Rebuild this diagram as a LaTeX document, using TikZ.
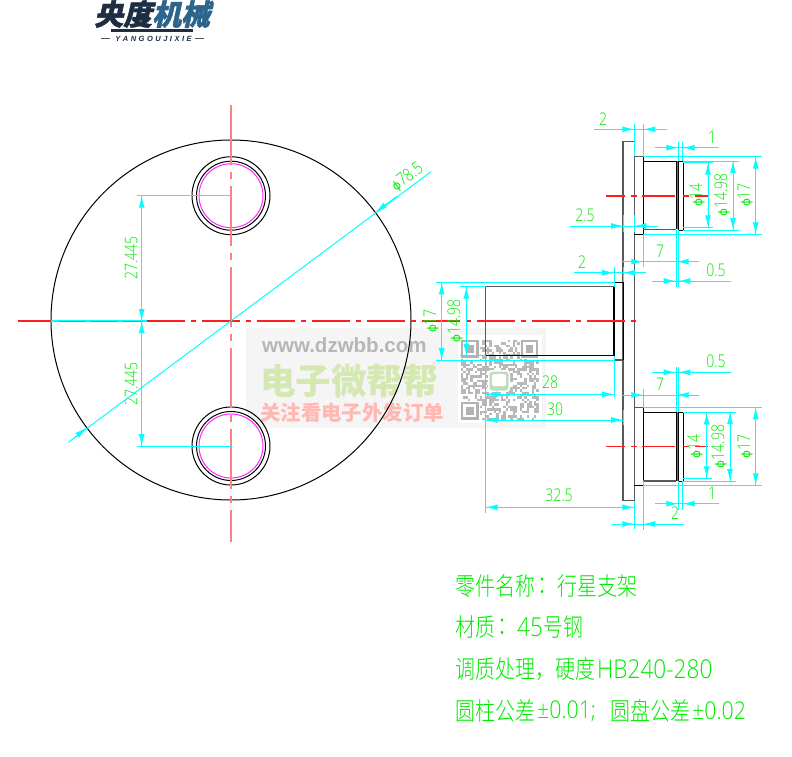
\documentclass[tikz,border=0pt]{standalone}
\usepackage{fontspec}
\usetikzlibrary{arrows.meta}
\newfontfamily\dimf[FakeStretch=0.8]{Open Sans Light}
\newfontfamily\latf[FakeStretch=0.87]{Open Sans Light}
\newfontfamily\phif{DejaVu Sans}
\newfontfamily\cjkl[FakeStretch=0.8]{Noto Sans CJK SC Light}
\newfontfamily\cjkb{Noto Sans CJK SC}
\newfontfamily\logof[FakeSlant=0.22,FakeBold=1.5]{Noto Sans CJK SC Black}
\newfontfamily\arialb{Liberation Sans}
\newcommand{\dphi}{{\phif\fontsize{12}{12}\selectfont ϕ}}
\newcommand{\cn}[1]{{\cjkl\fontsize{25}{25}\selectfont #1}}
\newcommand{\lt}[1]{{\latf\fontsize{26}{26}\selectfont #1}}
\newcommand{\lts}[1]{{\latf\fontsize{24.5}{24.5}\selectfont #1}}
\definecolor{dimc}{RGB}{0,255,255}
\definecolor{txtc}{RGB}{0,235,0}
\definecolor{redl}{RGB}{255,30,30}
\definecolor{redp}{RGB}{255,128,128}
\definecolor{magc}{RGB}{255,40,255}
\definecolor{navy}{RGB}{30,46,66}
\definecolor{blu}{RGB}{44,100,140}
\tikzset{
  dimln/.style={draw=dimc,line width=1pt},
  tipst/.style={color=dimc,line width=1pt,-{Latex[length=12pt,width=6pt]}},
  outl/.style={draw=black,line width=1pt},
  grayl/.style={draw=black!65,line width=1.3pt},
  redc/.style={color=redl,line width=1.1pt,dash pattern=on 38pt off 6pt on 5pt off 6pt},
  redv/.style={color=redp,line width=1.6pt,dash pattern=on 60pt off 7pt on 7pt off 7pt},
  dimtxt/.style={text=txtc,inner sep=0pt,font=\dimf\fontsize{17.5}{17.5}\selectfont},
  notetxt/.style={text=txtc,inner sep=0pt,anchor=west},
}
\newcommand{\htip}[3]{\draw[tipst] ({#1-(#3)*12},#2) -- (#1,#2);}
\newcommand{\vtip}[3]{\draw[tipst] (#1,{#2-(#3)*12}) -- (#1,#2);}
\newcommand{\pinaxis}[1]{\foreach \sa/\sb in {605.7/625,630.7/636.7,642/675,683/689,695/707.7}{\fill[redl] (\sa,#1-0.6) rectangle (\sb,#1+0.6);}}
\begin{document}
\begin{tikzpicture}[x=1pt,y=-1pt]
\useasboundingbox (0,0) rectangle (792,757);
% logo
\node[inner sep=0pt,anchor=west] (logo) at (94,14) {\logof\fontsize{29}{29}\selectfont\textcolor{navy}{央度}\textcolor{blu}{机械}};
\fill[navy] (111,29.5) rectangle (193,32);
\node[inner sep=0pt] (logosub) at (153.5,38.5) {\arialb\bfseries\itshape\fontsize{7.5}{7.5}\selectfont\textcolor{navy}{Y\,\,A\,\,N\,\,G\,\,O\,\,U\,\,J\,\,I\,\,X\,\,I\,\,E}};
\draw[navy!80,line width=.8pt] (101,38.5) -- (110,38.5) (195,38.5) -- (204,38.5);
% watermark
\fill[black!4] (246,328) rectangle (546,428);
\fill[white] (458,335) rectangle (542,423);
\node[inner sep=0pt,anchor=west] (wm1) at (262,345) {\arialb\bfseries\fontsize{20.5}{20.5}\selectfont\textcolor[RGB]{182,182,182}{www.dzwbb.com}};
\node[inner sep=0pt,anchor=west] (wm2) at (260,381) {\cjkb\bfseries\fontsize{35.5}{35.5}\selectfont\textcolor[RGB]{214,232,178}{电子微帮帮}};
\node[inner sep=0pt,anchor=west] (wm3) at (260,413) {\cjkb\bfseries\fontsize{20.4}{20.4}\selectfont\textcolor[RGB]{255,184,178}{关注看电子外发订单}};
% QR
\pgfmathsetseed{4711}
\foreach \i in {0,...,32}{\foreach \j in {0,...,33}{
  \pgfmathrandominteger{\rr}{0}{99}
  \ifnum\rr<48
    \fill[black!28] ({461+\i*2.35},{340+\j*2.35}) rectangle ++(2.35,2.35);
  \fi}}
\foreach \fx/\fy in {461/340,520.5/340,461/402}{
  \fill[white] (\fx-1,\fy-1) rectangle ++(20,20);
  \fill[black!30] (\fx,\fy) rectangle ++(17.5,17.5);
  \fill[white] (\fx+2.4,\fy+2.4) rectangle ++(12.7,12.7);
  \fill[black!30] (\fx+5,\fy+5) rectangle ++(7.5,7.5);
}
\fill[white,rounded corners=3pt] (488,370) rectangle (510,392);
\fill[green!45!black!25!white,rounded corners=3pt] (489.5,371.5) rectangle (508.5,390.5);
\fill[white,rounded corners=2pt] (492,374) rectangle (506,386);
% left view
\draw[outl] (231,320) circle[radius=180];
\foreach \cy in {195.7,446}{
  \draw[outl] (231,\cy) circle[radius=39];
  \draw[outl] (231,\cy) circle[radius=34.5];
  \draw[draw=magc,line width=1pt] (231,\cy) circle[radius=32];
}
% side view: disk
\draw[grayl] (634.3,141.3) -- (623,141.3) -- (623,500.7) -- (634.3,500.7);
\draw[grayl] (634.3,141.3) -- (634.3,500.7);
% upper pin
\draw[grayl] (634.3,156.7) -- (643.3,156.7);
\draw[outl] (634.3,234.3) -- (643.3,234.3);
\draw[outl,line width=1.2pt] (643.3,156.7) -- (643.3,234.3);
\draw[outl] (643.3,161) -- (676,161);
\draw[grayl] (643.3,229.3) -- (676,229.3);
\fill[black!55] (676,161) rectangle (678.6,229.3);
\draw[outl] (676,161) -- (676,229.3);
\draw[outl,line width=.8pt] (678.6,161) -- (683,161) -- (683,230) -- (678.6,230) -- cycle;
% lower pin
\draw[grayl] (634.3,407.3) -- (643.3,407.3);
\draw[outl] (634.3,485.3) -- (643.3,485.3);
\draw[outl,line width=1.2pt] (643.3,407.3) -- (643.3,481);
\draw[outl] (643.3,412) -- (676,412);
\draw[grayl] (643.3,481) -- (676,481);
\fill[black!55] (676,412) rectangle (678.6,481);
\draw[outl] (676,412) -- (676,481);
\draw[outl,line width=.8pt] (678.6,412) -- (683,412) -- (683,481) -- (678.6,481) -- cycle;
% centre pin
\draw[grayl] (485.7,355.7) -- (485.7,286.7) -- (614,286.7);
\draw[outl] (485.7,355.7) -- (614,355.7);
\draw[outl,line width=1.6pt] (614,286.7) -- (614,355.7);
\draw[outl] (614,282.3) -- (623,282.3);
\draw[grayl] (614,360) -- (623,360);
\draw[outl] (623,282.3) -- (623,360);
% centre lines
\draw[redv] (231,105) -- (231,542);
\draw[color=redl,line width=1.1pt] (18,321) -- (51,321);
\draw[redc] (147,321) -- (640,321);
\pinaxis{196}
\pinaxis{446.3}
% left dims
\draw[dimln] (137,195.7) -- (231,195.7);
\draw[dimln] (137,446) -- (231,446);
\draw[dimln,line width=1.3pt] (51,321) -- (147,321);
\draw[black!45,line width=.6pt,dash pattern=on 28pt off 4pt] (58,321) -- (143,321);
\draw[dimln] (141.7,195.7) -- (141.7,446);
\vtip{141.7}{195.7}{-1}\vtip{141.7}{321}{1}\vtip{141.7}{321}{-1}\vtip{141.7}{446}{1}
\node[dimtxt,rotate=90] (d27a) at (131,258) {27.445};
\node[dimtxt,rotate=90] (d27b) at (131,384) {27.445};
\draw[dimln] (68.3,442.3) -- (431,171.7);
\draw[tipst] (397,196.2) -- (375.4,212.4);
\draw[tipst] (74.6,437.6) -- (86.6,427.6);
\node[dimtxt,rotate=36.7] (d78) at (407,177) {\dphi 78.5};
% top-right dims
\draw[dimln] (594,129.3) -- (667,129.3); \htip{634.3}{129.3}{1}\htip{643.3}{129.3}{-1}
\draw[dimln] (634.3,124) -- (634.3,156) (643.3,124) -- (643.3,156.7) (643.3,234.3) -- (643.3,267);
\node[dimtxt] (t2a) at (603,119) {2};
\draw[dimln] (655,147.7) -- (719,147.7); \htip{678.3}{147.7}{1}\htip{682.7}{147.7}{-1}
\draw[dimln] (678.3,142) -- (678.3,161) (682.7,142) -- (682.7,161);
\node[dimtxt] (t1a) at (712,137) {1};
\draw[dimln] (683,162.7) -- (713,162.7) (683,227.3) -- (713,227.3);
\draw[dimln] (708,162.7) -- (708,227.3); \vtip{708}{162.7}{-1}\vtip{708}{227.3}{1}
\node[dimtxt,rotate=90] (p14a) at (697,195) {\dphi 14};
\draw[dimln] (683,161) -- (739,161) (683,230) -- (739,230);
\draw[dimln] (733,161) -- (733,230); \vtip{733}{161}{-1}\vtip{733}{230}{1}
\node[dimtxt,rotate=90] (p15a) at (722,195) {\dphi 14.98};
\draw[dimln] (643.3,156.7) -- (761.7,156.7) (643.3,234.3) -- (761.7,234.3);
\draw[dimln] (755.7,156.7) -- (755.7,234.3); \vtip{755.7}{156.7}{-1}\vtip{755.7}{234.3}{1}
\node[dimtxt,rotate=90] (p17a) at (745,195) {\dphi 17};
\draw[dimln] (570,226) -- (657.7,226); \htip{623}{226}{1}\htip{634.3}{226}{-1}
\draw[dimln] (623,215) -- (623,232) (634.3,215) -- (634.3,232);
\node[dimtxt] (t25) at (585,215) {2.5};
\draw[dimln] (621,261.7) -- (699,261.7); \htip{643.3}{261.7}{1}\htip{676.7}{261.7}{-1}
\draw[dimln] (676.7,230) -- (676.7,286.7) (678.3,230) -- (678.3,286.7);
\node[dimtxt] (t7a) at (660,251) {7};
\draw[dimln] (652,281) -- (731,281); \htip{675.7}{281}{1}\htip{678.3}{281}{-1}
\node[dimtxt] (t05a) at (716,270) {0.5};
\draw[dimln] (574,272.7) -- (646,272.7); \htip{614}{272.7}{1}\htip{623}{272.7}{-1}
\draw[dimln] (614,267) -- (614,286.7) (614,356) -- (614,398) (623,267) -- (623,282);
\node[dimtxt] (t2b) at (582,262) {2};
% centre dims
\draw[dimln] (436,282.3) -- (614,282.3) (436,360) -- (614,360);
\draw[dimln] (441.7,282.3) -- (441.7,360); \vtip{441.7}{282.3}{-1}\vtip{441.7}{360}{1}
\node[dimtxt,rotate=90] (p17b) at (431,321) {\dphi 17};
\draw[dimln] (460,286.7) -- (485.7,286.7) (460,355.7) -- (485.7,355.7);
\draw[dimln] (466.3,286.7) -- (466.3,355.7); \vtip{466.3}{286.7}{-1}\vtip{466.3}{355.7}{1}
\node[dimtxt,rotate=90] (p15b) at (455,321) {\dphi 14.98};
\draw[dimln] (485.7,356) -- (485.7,513);
\draw[dimln] (485.7,394.3) -- (614,394.3); \htip{485.7}{394.3}{-1}\htip{614}{394.3}{1}
\node[dimtxt] (t28) at (550,382) {28};
\draw[dimln] (623,410) -- (623,425);
\draw[dimln] (485.7,420) -- (623,420); \htip{485.7}{420}{-1}\htip{623}{420}{1}
\node[dimtxt] (t30) at (555,409) {30};
\draw[dimln] (485.7,507.3) -- (634.3,507.3); \htip{485.7}{507.3}{-1}\htip{634.3}{507.3}{1}
\node[dimtxt] (t325) at (559,495) {32.5};
% bottom-right dims
\draw[dimln] (652,372.3) -- (731,372.3); \htip{675.7}{372.3}{1}\htip{678.3}{372.3}{-1}
\draw[dimln] (676.7,367) -- (676.7,412) (678.3,367) -- (678.3,412);
\node[dimtxt] (t05b) at (716,361) {0.5};
\draw[dimln] (621,395) -- (699,395); \htip{643.3}{395}{1}\htip{676.7}{395}{-1}
\draw[dimln] (643.3,389) -- (643.3,407) (643.3,481) -- (643.3,530);
\node[dimtxt] (t7b) at (660,384) {7};
\draw[dimln] (683,412.3) -- (712,412.3) (683,478.3) -- (712,478.3);
\draw[dimln] (706.7,412.3) -- (706.7,478.3); \vtip{706.7}{412.3}{-1}\vtip{706.7}{478.3}{1}
\node[dimtxt,rotate=90] (p14b) at (695,446.5) {\dphi 14};
\draw[dimln] (683,412) -- (735.7,412) (683,481) -- (735.7,481);
\draw[dimln] (730,412) -- (730,481); \vtip{730}{412}{-1}\vtip{730}{481}{1}
\node[dimtxt,rotate=90] (p15c) at (719,446.5) {\dphi 14.98};
\draw[dimln] (643.3,407.3) -- (761.7,407.3) (643.3,485.3) -- (761.7,485.3);
\draw[dimln] (755.7,407.3) -- (755.7,485.3); \vtip{755.7}{407.3}{-1}\vtip{755.7}{485.3}{1}
\node[dimtxt,rotate=90] (p17c) at (745,446.5) {\dphi 17};
\draw[dimln] (655,503.7) -- (719,503.7); \htip{678.3}{503.7}{1}\htip{682.7}{503.7}{-1}
\draw[dimln] (678.3,481) -- (678.3,510) (682.7,481) -- (682.7,510);
\node[dimtxt] (t1b) at (712,493) {1};
\draw[dimln] (611.7,524) -- (684,524); \htip{634.3}{524}{1}\htip{643.3}{524}{-1}
\draw[dimln] (634.3,501) -- (634.3,529);
\node[dimtxt] (t2c) at (675,513) {2};
% notes
\node[notetxt] (n1a) at (455,586) {\cn{零件名称}};
\node[notetxt] (n1b) at (537,586) {\cn{：}};
\node[notetxt] (n1c) at (557,586) {\cn{行星支架}};
\node[notetxt] (n2a) at (455,627) {\cn{材质}};
\node[notetxt] (n2b) at (497,627) {\cn{：}};
\node[notetxt] (n2c) at (517,627) {\lt{45}};
\node[notetxt] (n2d) at (543,627) {\cn{号钢}};
\node[notetxt] (n3a) at (455,669) {\cn{调质处理，}};
\node[notetxt] (n3b) at (555,669) {\cn{硬度}};
\node[notetxt] (n3c) at (597,669) {\lt{HB240-280}};
\node[notetxt] (n4a) at (455,711) {\cn{圆柱公差}};
\node[notetxt] (n4b) at (537,711) {\lts{±0.01;}};
\node[notetxt] (n4c) at (610,711) {\cn{圆盘公差}};
\node[notetxt] (n4d) at (692,711) {\lts{±0.02}};
\end{tikzpicture}
\end{document}
